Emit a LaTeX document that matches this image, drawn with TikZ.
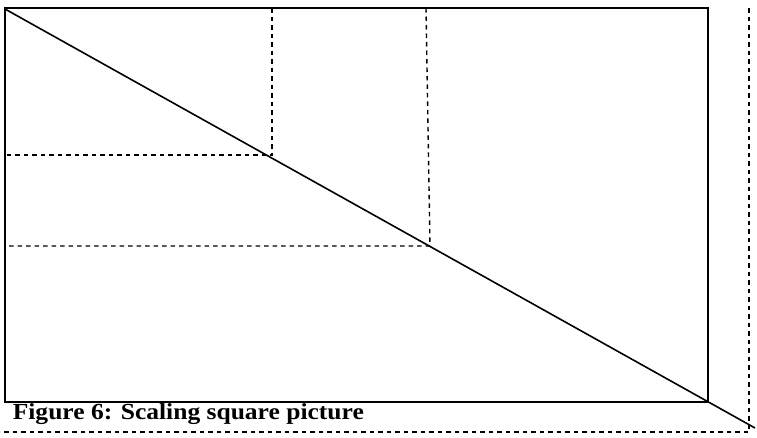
\documentclass[tikz,border=0pt]{standalone}
\usepackage{fontspec}
\setmainfont{Liberation Serif}
\usepackage{tikz}
\usetikzlibrary{positioning,calc}

\begin{document}
\begin{tikzpicture}[x=1pt,y=-1pt,line width=1.6pt,
  guide/.style={line width=1.4pt,dash pattern=on 4.5pt off 4pt}]
% picture frame in pixel units (y runs down)
\useasboundingbox (0,0) rectangle (757,437);
\coordinate (tl) at (5,9);
\coordinate (br) at (708,402);
\coordinate (far) at (755,428);
\draw (5,8) rectangle (br);
% the diagonal runs past the corner
\draw (tl) -- (far);
% two scaled copies of the corner
\coordinate (pa) at (272,155);
\coordinate (pb) at (430,246);
\draw[guide] (272,8) -- (pa) -- (5,155);
\draw[guide] (426,8) -- (pb) -- (5,246);
% outer dashed frame
\draw[guide] (749,8) -- (749,432) -- (0,432);
\node[anchor=base west,inner sep=0pt,font=\bfseries\fontsize{23}{23}\selectfont] (cap) at (12,419)
  {\scalebox{1.11}[1]{Figure 6: Scaling square picture}};
\end{tikzpicture}
\end{document}
